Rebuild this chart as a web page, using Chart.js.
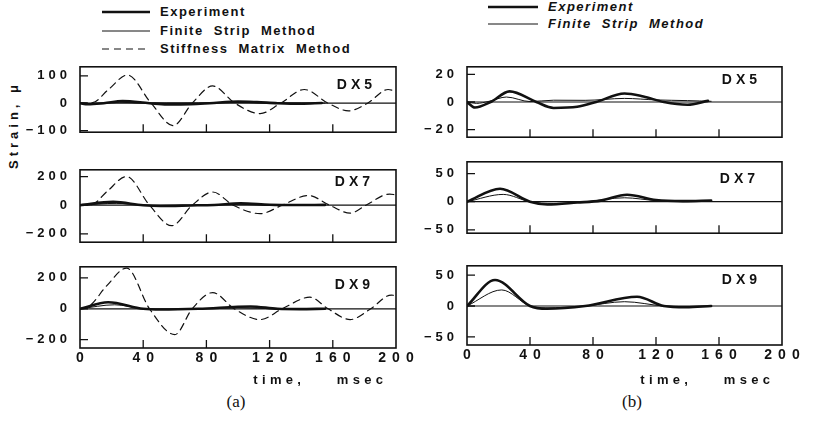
<!DOCTYPE html>
<html>
<head>
<meta charset="utf-8">
<script src="https://cdn.jsdelivr.net/npm/chart.js@4/dist/chart.umd.min.js"></script>
<style>
  body { margin: 0; width: 815px; height: 422px; background: #fff; position: relative; overflow: hidden;
         font-family: "Liberation Sans", Arial, sans-serif; font-weight: bold; color: #111; }
  canvas { position: absolute; }
  .lg { position: absolute; font-size: 13px; letter-spacing: 1.5px; word-spacing: 5px; white-space: pre; line-height: 14px; }
  .it { font-style: italic; }
  .cap { position: absolute; font-family: "Liberation Serif", serif; font-weight: normal; font-size: 17px; transform: translate(-50%, -50%); }
  .ytitle { position: absolute; font-size: 13px; letter-spacing: 4px; white-space: pre;
            transform: translate(-50%, -50%) rotate(-90deg); }
  svg { position: absolute; }
</style>
</head>
<body>

<!-- legends -->
<svg style="left:0;top:0" width="815" height="60">
  <line x1="102" y1="12" x2="150" y2="12" stroke="#111" stroke-width="2.4"/>
  <line x1="102" y1="31" x2="150" y2="31" stroke="#111" stroke-width="1"/>
  <line x1="102" y1="49" x2="150" y2="49" stroke="#111" stroke-width="1.2" stroke-dasharray="7,5"/>
  <line x1="488" y1="7" x2="538" y2="7" stroke="#111" stroke-width="2.4"/>
  <line x1="488" y1="24" x2="538" y2="24" stroke="#111" stroke-width="1"/>
</svg>
<div class="lg" style="left:160px;top:5px">Experiment</div>
<div class="lg" style="left:160px;top:24px">Finite Strip Method</div>
<div class="lg" style="left:160px;top:42px">Stiffness Matrix Method</div>
<div class="lg it" style="left:548px;top:0px">Experiment</div>
<div class="lg it" style="left:548px;top:17px">Finite Strip Method</div>

<div class="ytitle" style="left:13px;top:125px">Strain, μ</div>
<div class="cap" style="left:236px;top:402px">(a)</div>
<div class="cap" style="left:632px;top:402px">(b)</div>

<script>
// tiempos (ms) y deformaciones

// DX5
const tExp5 = [0, 5, 15, 27, 44, 55, 70, 82, 100, 112, 125, 140, 153];
const exp5  = [0, -4, 0, 7.7, 0, -4.3, -3.5, 0, 6.2, 4, 0, -2, 0.8];
const tFsm5 = [0, 6, 14, 25, 40, 55, 75, 100, 120, 140, 155];
const fsm5  = [0, -1, 0.5, 3.6, 0.3, 1.3, 1.2, 2.6, 1.5, 1, 0.5];
const tSmm5 = [0, 8, 18, 30, 45, 59, 71, 84, 98, 114, 127, 142, 157, 170, 182, 195, 200];
const smm5  = [0, 2, 50, 103, 0, -82, 0, 63, 0, -38, 0, 50, 0, -28, 0, 50, 44];

// DX7
const tExp7 = [0, 21, 40, 51, 70, 85, 101.6, 120, 137, 155];
const exp7  = [0, 23, 0, -5, -1.5, 2, 12.5, 3, 1, 2];
const tFsm7 = [0, 23, 40, 55, 75, 100, 120, 140, 155];
const fsm7  = [0, 13, 0, -3, 0, 7, 2, 0, 1];
const tSmm7 = [0, 7, 17, 29.5, 44, 58, 71, 84, 97, 114, 128, 144.5, 158, 171, 181, 196, 200];
const smm7  = [0, 2, 95, 200, 0, -143, 0, 92, 0, -59, 0, 68, 0, -55, 0, 78, 72];

// DX9
const tExp9 = [0, 17.8, 40, 51, 75, 108, 125, 139, 155];
const exp9  = [0, 42, 0, -4.5, 0, 15, 0, -2, 0];
const tFsm9 = [0, 22, 40, 50, 75, 100, 125, 140, 155];
const fsm9  = [0, 26, 0, -3, 0, 7, 0, -1, 0];
const tSmm9 = [0, 6, 17, 29.5, 44, 60, 71, 84, 97.6, 114, 128, 145.5, 157, 171, 184, 197, 200];
const smm9  = [0, 18, 150, 264, 0, -167, 0, 105, 0, -70, 0, 75, 0, -70, 0, 89, 85];

// ejes
const xTicksStep = 40;
const yTicksA5 = [-100, 0, 100];
const yTicksA7 = [-200, 0, 200];
const yTicksA9 = [-200, 0, 200];
const yTicksB5 = [-20, 0, 20];
const yTicksB7 = [-50, 0, 50];
const yTicksB9 = [-50, 0, 50];

const pts = (t, v) => t.map((x, i) => ({ x: x, y: v[i] }));

// escala lineal con espaciado de letras (como el trazador original)
class SpacedScale extends Chart.LinearScale {
  drawLabels(area) {
    const s = this.options.letterSpacing || 0;
    this.ctx.save();
    this.ctx.letterSpacing = s + "px";
    this.ctx.translate(this.isHorizontal() ? s / 2 : s, 0);
    super.drawLabels(area);
    this.ctx.restore();
  }
  drawTitle() {
    const s = this.options.titleSpacing || 0;
    this.ctx.save();
    this.ctx.letterSpacing = s + "px";
    this.ctx.translate(s - (this.options.titleOffset || 0), 0);
    super.drawTitle();
    this.ctx.restore();
  }
}
SpacedScale.id = "spaced";
SpacedScale.defaults = Chart.LinearScale.defaults;
Chart.register(SpacedScale);

const INK = "#111";

// marco, línea de cero, marcas hacia dentro y nombre del panel
const framePlugin = {
  id: "frame",
  afterDatasetsDraw(chart, args, opts) {
    const { ctx, chartArea: a, scales: { x, y } } = chart;
    ctx.save();
    ctx.strokeStyle = INK;
    ctx.lineWidth = 1.2;
    const y0 = y.getPixelForValue(0);
    ctx.beginPath();
    ctx.moveTo(a.left, y0);
    ctx.lineTo(a.right, y0);
    ctx.stroke();
    ctx.lineWidth = 1.3;
    ctx.beginPath();
    x.ticks.forEach((t) => {
      if (t.value > x.min && t.value < x.max) {
        const px = x.getPixelForValue(t.value);
        ctx.moveTo(px, a.bottom);
        ctx.lineTo(px, a.bottom - 8);
      }
    });
    y.ticks.forEach((t) => {
      const py = y.getPixelForValue(t.value);
      ctx.moveTo(a.left, py);
      ctx.lineTo(a.left + 8, py);
    });
    ctx.stroke();
    ctx.lineWidth = 1.6;
    ctx.strokeRect(a.left, a.top, a.right - a.left, a.bottom - a.top);
    ctx.fillStyle = INK;
    ctx.font = 'bold 14px "Liberation Sans"';
    ctx.letterSpacing = "4px";
    ctx.textAlign = "right";
    ctx.textBaseline = "middle";
    ctx.fillText(opts.label, a.right - opts.dx + 4, a.top + opts.dy);
    ctx.restore();
  }
};

const AX = 75, PT = 14, PR = 30;

const panels = [
  { left: 80, top: 60, w: 316, h: 79, min: -106, max: 133, yt: yTicksA5, label: "DX5", dx: 24, dy: 18,
    exp: pts(tExp5, exp5), fsm: pts(tFsm5, fsm5), smm: pts(tSmm5, smm5) },
  { left: 80, top: 163, w: 316, h: 86, min: -258, max: 247, yt: yTicksA7, label: "DX7", dx: 26, dy: 12,
    exp: pts(tExp7, exp7), fsm: pts(tFsm7, fsm7), smm: pts(tSmm7, smm7) },
  { left: 80, top: 260, w: 316, h: 88, min: -254, max: 272, yt: yTicksA9, label: "DX9", dx: 26, dy: 18,
    exp: pts(tExp9, exp9), fsm: pts(tFsm9, fsm9), smm: pts(tSmm9, smm9), titleY: 380, titleOff: 13 },
  { left: 467, top: 60, w: 315, h: 84, min: -25.5, max: 25.5, yt: yTicksB5, label: "DX5", dx: 25, dy: 13,
    exp: pts(tExp5, exp5), fsm: pts(tFsm5, fsm5) },
  { left: 467, top: 155, w: 315, h: 85, min: -56, max: 71, yt: yTicksB7, label: "DX7", dx: 27, dy: 17,
    exp: pts(tExp7, exp7), fsm: pts(tFsm7, fsm7) },
  { left: 467, top: 259, w: 315, h: 86, min: -63, max: 65, yt: yTicksB9, label: "DX9", dx: 25, dy: 14,
    exp: pts(tExp9, exp9), fsm: pts(tFsm9, fsm9), titleY: 380, titleOff: 12 }
];

panels.forEach((p) => {
  const bottom = !!p.titleY;
  const xh = bottom ? Math.round(p.titleY + 8 - (p.top + p.h)) : 14;
  const cv = document.createElement("canvas");
  cv.width = AX + p.w + PR;
  cv.height = PT + p.h + xh;
  cv.style.left = (p.left - AX) + "px";
  cv.style.top = (p.top - PT) + "px";
  document.body.appendChild(cv);

  const datasets = [
    { data: p.exp, borderColor: INK, borderWidth: 2.6 },
    { data: p.fsm, borderColor: INK, borderWidth: 1 }
  ];
  if (p.smm) datasets.push({ data: p.smm, borderColor: INK, borderWidth: 1.2, borderDash: [7, 5] });

  new Chart(cv.getContext("2d"), {
    type: "line",
    data: { datasets: datasets },
    options: {
      responsive: false,
      animation: false,
      events: [],
      layout: { padding: { top: PT, right: PR, left: 0, bottom: 0 } },
      elements: { point: { radius: 0 }, line: { cubicInterpolationMode: "monotone", borderCapStyle: "round" } },
      plugins: { legend: { display: false }, tooltip: { enabled: false },
                 frame: { label: p.label, dx: p.dx, dy: p.dy } },
      scales: {
        x: {
          type: "spaced", min: 0, max: 200,
          letterSpacing: 6, titleSpacing: 4.3, titleOffset: p.titleOff || 0,
          afterFit: (s) => { s.height = xh; },
          grid: { display: false, drawTicks: false },
          border: { display: false },
          ticks: { display: bottom, stepSize: xTicksStep, padding: 2, color: INK,
                   font: { family: "Liberation Sans", size: 14, weight: "bold" } },
          title: { display: bottom, text: "time,    msec", align: "end", color: INK,
                   padding: { top: 0, bottom: 0 },
                   font: { family: "Liberation Sans", size: 13, weight: "bold" } }
        },
        y: {
          type: "spaced", min: p.min, max: p.max,
          letterSpacing: 4,
          afterFit: (s) => { s.width = AX; },
          afterBuildTicks: (s) => { s.ticks = p.yt.map((v) => ({ value: v })); },
          grid: { display: false, drawTicks: false },
          border: { display: false },
          ticks: { padding: 13, color: INK,
                   font: { family: "Liberation Sans", size: 13, weight: "bold" },
                   callback: (v) => (v < 0 ? "\u2212" + Math.abs(v) : String(v)) }
        }
      }
    },
    plugins: [framePlugin]
  });
});
</script>
</body>
</html>
